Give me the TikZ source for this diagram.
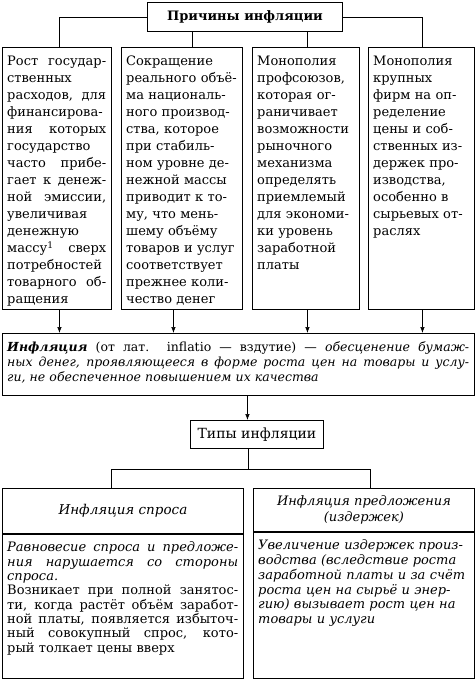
\documentclass[tikz,border=0pt]{standalone}
\usepackage{fontspec}
\setmainfont{DejaVu Serif}
\usetikzlibrary{arrows.meta}

\newcommand{\jl}[1]{\makebox[\hsize][s]{\spaceskip=0pt\xspaceskip=0pt\relax #1}}

\begin{document}
\begin{tikzpicture}[x=1pt, y=1pt]
                      \tikzstyle{every node}+=[inner sep=0pt]
                      \tikzstyle{box}=[draw=black, line width=0.9pt, anchor=north west]
                      \tikzstyle{txt}=[anchor=north west, align=left, font=\fontsize{13}{17}\selectfont]
                      \tikzstyle{arr}=[black, line width=0.7pt, -{Latex[length=6pt,width=4.5pt]}]
                      \tikzstyle{link}=[black, line width=0.7pt]
                      \useasboundingbox (0,0) rectangle (475,-680);
                      % causes
                      \node [box, minimum width=195, minimum height=29, font=\bfseries\fontsize{13}{15}\selectfont] (cause) at (147,-2) {Причины инфляции};
                      \node [box, minimum width=109, minimum height=262] (c1) at (2,-47) {};
                      \node [box, minimum width=121, minimum height=262] (c2) at (121,-47) {};
                      \node [box, minimum width=107, minimum height=262] (c3) at (252,-47) {};
                      \node [box, minimum width=106, minimum height=262] (c4) at (368,-47) {};
                      \node [txt, text width=99] (c1t) at ([xshift=5,yshift=-9]c1.north west) {\jl{Рост государ-}\\ственных\\\jl{расходов, для}\\финансирова-\\\jl{ния которых}\\государство\\\jl{часто прибе-}\\\jl{гает к денеж-}\\\jl{ной эмиссии,}\\увеличивая\\денежную\\\jl{массу\textsuperscript{1} сверх}\\потребностей\\\jl{товарного об-}\\ращения};
                      \node [txt, text width=111] (c2t) at ([xshift=5,yshift=-9]c2.north west) {Сокращение\\реального объё-\\ма националь-\\ного производ-\\ства, которое\\при стабиль-\\ном уровне де-\\нежной массы\\приводит к то-\\му, что мень-\\шему объёму\\товаров и услуг\\соответствует\\прежнее коли-\\чество денег};
                      \node [txt, text width=98] (c3t) at ([xshift=5,yshift=-9]c3.north west) {Монополия\\профсоюзов,\\которая ог-\\раничивает\\возможности\\рыночного\\механизма\\определять\\приемлемый\\для экономи-\\ки уровень\\заработной\\платы};
                      \node [txt, text width=97] (c4t) at ([xshift=5,yshift=-9]c4.north west) {Монополия\\крупных\\фирм на оп-\\ределение\\цены и соб-\\ственных из-\\держек про-\\изводства,\\особенно в\\сырьевых от-\\раслях};
                      \draw [link] (cause.west) -| ([xshift=2.5]c1.north);
                      \draw [link] ([xshift=10.5]c2.north) -- ([xshift=10.5]c2.north |- cause.south);
                      \draw [link] ([xshift=1.5]c3.north) -- ([xshift=1.5]c3.north |- cause.south);
                      \draw [link] (cause.east) -| ([xshift=1]c4.north);
                      % definition
                      \node [box, minimum width=472, minimum height=62] (def) at (2,-333) {};
                      \node [txt, text width=462, font=\fontsize{12.5}{15}\selectfont] (deft) at ([xshift=5,yshift=-8]def.north west) {\jl{\textbf{\textit{Инфляция}} (от лат. inflatio — вздутие) — \textit{обесценение бумаж-}}\\\jl{\itshape ных денег, проявляющееся в форме роста цен на товары и услу-}\\\textit{ги, не обеспеченное повышением их качества}};
                      \draw [arr] ([xshift=2.5]c1.south) -- ([xshift=2.5]c1.south |- def.north);
                      \draw [arr] ([xshift=-8.5]c2.south) -- ([xshift=-8.5]c2.south |- def.north);
                      \draw [arr] ([xshift=1.5]c3.south) -- ([xshift=1.5]c3.south |- def.north);
                      \draw [arr] ([xshift=1]c4.south) -- ([xshift=1]c4.south |- def.north);
                      % types
                      \node [box, minimum width=133, minimum height=28, font=\fontsize{14}{16}\selectfont] (types) at (190,-420) {Типы инфляции};
                      \draw [arr] ([xshift=-9.5]types.north |- def.south) -- ([xshift=-9.5]types.north);
                      \node [box, minimum width=241, minimum height=45, font=\itshape\fontsize{13.5}{16}\selectfont] (d1h) at (2,-488) {Инфляция спроса};
                      \node [box, minimum width=241, minimum height=144] (d1) at (d1h.south west) {};
                      \node [box, minimum width=221, minimum height=43, align=center, font=\itshape\fontsize{13}{16}\selectfont] (d2h) at (253,-488) {Инфляция предложения\\(издержек)};
                      \node [box, minimum width=221, minimum height=146] (d2) at (d2h.south west) {};
                      \node [txt, text width=231, font=\fontsize{13}{14.3}\selectfont] (d1t) at ([xshift=5,yshift=-8]d1.north west) {\jl{\itshape Равновесие спроса и предложе-}\\\jl{\itshape ния нарушается со стороны}\\\textit{спроса.}\\\jl{Возникает при полной занятос-}\\\jl{ти, когда растёт объём заработ-}\\\jl{ной платы, появляется избыточ-}\\\jl{ный совокупный спрос, кото-}\\рый толкает цены вверх};
                      \node [txt, text width=211, font=\itshape\fontsize{13}{14.7}\selectfont] (d2t) at ([xshift=5,yshift=-8]d2.north west) {Увеличение издержек произ-\\водства (вследствие роста\\заработной платы и за счёт\\роста цен на сырьё и энер-\\гию) вызывает рост цен на\\товары и услуги};
                      \draw [link] ([xshift=-8.5]types.south) -- ++(0,-20) coordinate (fork);
                      \draw [link] ([xshift=-11.5]d1h.north) |- (fork) -| ([xshift=6.5]d2h.north);
                  \end{tikzpicture}
\end{document}
